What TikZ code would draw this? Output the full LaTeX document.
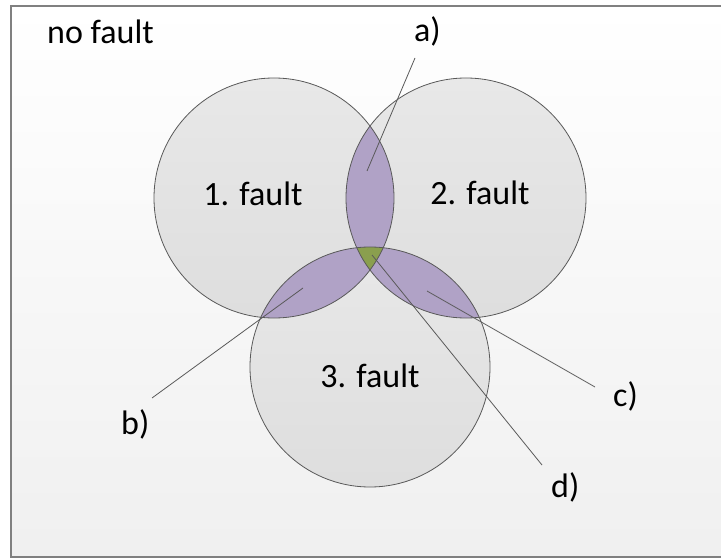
\documentclass[tikz,border=0pt]{standalone}
\usepackage{fontspec}
\setmainfont{Carlito}
\begin{document}
\begin{tikzpicture}[x=1pt,y=-1pt,
  lbl/.style={anchor=base west,inner sep=0pt,font=\fontsize{34}{40}\selectfont},
  clbl/.style={anchor=base,inner sep=0pt,font=\fontsize{34}{40}\selectfont},
  outline/.style={draw=black!65,line width=0.8pt},
  leader/.style={draw=black!65,line width=0.8pt}]
\definecolor{lens}{HTML}{B0A2C6}
\definecolor{tri}{HTML}{8A9F4E}
\useasboundingbox (0,0) rectangle (721,559);
% background
\shade[top color=white,bottom color=black!6] (11,6) rectangle (730,557);
\draw[draw=black!50,line width=1.2pt] (730,6) -- (11,6) -- (11,557) -- (730,557);
% circles
\coordinate (c1) at (274,198);
\coordinate (c2) at (466,198);
\coordinate (c3) at (370,367);
\foreach \c in {c1,c2,c3}{
  \shade[top color=black!9,bottom color=black!13] (\c) circle[radius=120];
}
% pairwise intersections
\begin{scope}\clip (c1) circle[radius=120]; \fill[lens] (c2) circle[radius=120];\end{scope}
\begin{scope}\clip (c1) circle[radius=120]; \fill[lens] (c3) circle[radius=120];\end{scope}
\begin{scope}\clip (c2) circle[radius=120]; \fill[lens] (c3) circle[radius=120];\end{scope}
% triple intersection
\begin{scope}\clip (c1) circle[radius=120]; \clip (c2) circle[radius=120]; \fill[tri] (c3) circle[radius=120];\end{scope}
% outlines
\foreach \c in {c1,c2,c3}{ \draw[outline] (\c) circle[radius=120]; }
% labels
\node[lbl] (nofault) at (47,44) {no fault};
\node[clbl] (f1) at (253,206) {1. fault};
\node[clbl] (f2) at (480,205) {2. fault};
\node[clbl] (f3) at (370,387) {3. fault};
\node[lbl] (la) at (414,42) {a)};
\node[lbl] (lb) at (121,434) {b)};
\node[lbl] (lc) at (613,406) {c)};
\node[lbl] (ld) at (551,497) {d)};
% leader line ends
\coordinate (as) at (415,58);  \coordinate (ae) at (367,171);
\coordinate (bs) at (152,398); \coordinate (be) at (303,288);
\coordinate (cs) at (595,387); \coordinate (ce) at (427,291);
\coordinate (ds) at (542,465); \coordinate (de) at (372,255);
\draw[leader] (as) -- (ae);
\draw[leader] (bs) -- (be);
\draw[leader] (cs) -- (ce);
\draw[leader] (ds) -- (de);
\end{tikzpicture}
\end{document}
